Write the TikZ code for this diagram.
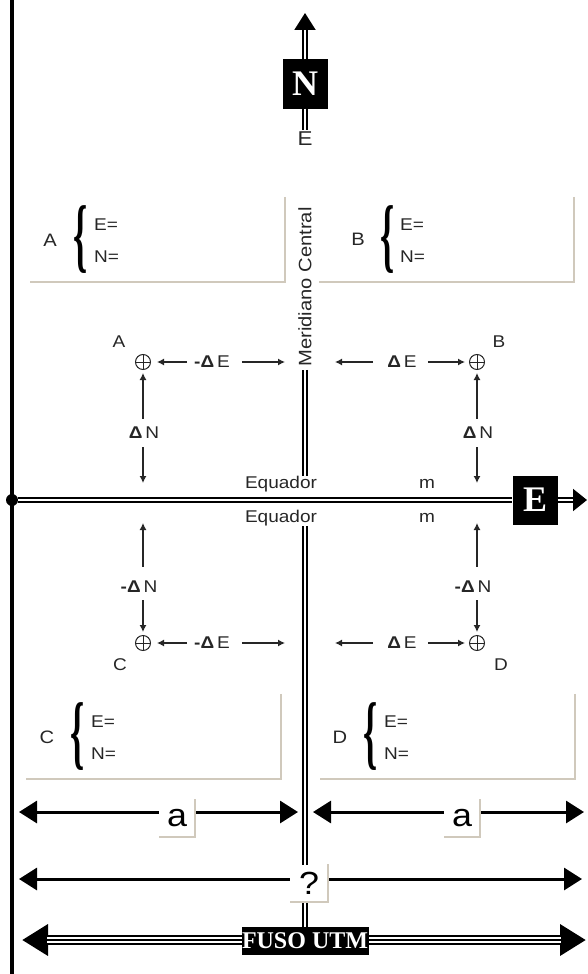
\documentclass[tikz,border=0pt]{standalone}
\usepackage{fontspec}
\setmainfont{Liberation Sans}[FakeStretch=1.12]
\newfontfamily\romfont{Liberation Serif}
\usetikzlibrary{arrows.meta}

\definecolor{ink}{gray}{0.15}
\definecolor{sand}{RGB}{208,201,188}

\newcommand{\dlt}{\textbf{Δ}\,}
\newcommand{\brc}{\scalebox{0.9}[2.05]{\romfont\bfseries\fontsize{40}{40}\selectfont\{}}

\begin{document}
\begin{tikzpicture}[
  x=1pt, y=-1pt,
  dbl/.style={draw=black, line width=2pt, double=white, double distance=2pt},
  tag/.style={fill=black, text=white, font=\romfont\bfseries\fontsize{36}{36}\selectfont,
              minimum width=45pt, minimum height=49pt, inner sep=0pt},
  lbl/.style={text=ink, font=\fontsize{17}{17}\selectfont, inner sep=0pt},
  pt/.style={circle, draw=ink, line width=1pt, minimum size=15pt, inner sep=0pt,
             path picture={\draw[ink, line width=1pt]
               (path picture bounding box.north) -- (path picture bounding box.south)
               (path picture bounding box.west) -- (path picture bounding box.east);}},
  sarr/.style={-{Latex[length=7pt,width=7pt]}, draw=ink, line width=1.2pt},
  coordbox/.style={minimum width=255pt, minimum height=85pt, inner sep=0pt},
  corner/.style={draw=sand, line width=1.8pt},
  dimlbl/.style={fill=white, minimum width=36pt, minimum height=37pt, inner sep=0pt,
                 font=\fontsize{32}{32}\selectfont},
  dimarr/.style={line width=3pt, {Triangle[length=18pt,width=22pt]}-{Triangle[length=18pt,width=22pt]}},
  fusoarr/.style={line width=10pt, {Triangle[length=26pt,width=30pt]}-{Triangle[length=26pt,width=30pt]},
                  postaction={draw=white, line width=6pt, arrows=-, shorten <=25pt, shorten >=25pt},
                  postaction={draw=black, line width=2pt, arrows=-, shorten <=25pt, shorten >=25pt}},
]
\useasboundingbox (0,0) rectangle (587,974);

% borda esquerda e origem
\coordinate (ltop) at (12,0);
\coordinate (lbot) at (12,974);
\draw[line width=3.5pt] (ltop) -- (lbot);
\node[circle, fill=black, minimum size=12pt, inner sep=0pt] (orig) at (12,500) {};

% norte e meridiano central
\node[tag] (nbox) at (305,84) {N};
\coordinate (ntip) at (305,13);
\node[lbl, font=\fontsize{20}{20}\selectfont] (eN) at (305,139) {E};
\draw[dbl, -{Triangle[length=17pt,width=21pt]}] (nbox) -- (ntip);
\draw[dbl, shorten >=2pt] (nbox) -- (eN);
\node[lbl, rotate=90, inner sep=3pt, font=\fontsize{18}{18}\selectfont] (mer) at (305,287) {Meridiano Central};

% equador
\node[tag] (ebox) at (535,500) {E};
\coordinate (etip) at (587,500);
\draw[dbl] (orig) -- (ebox);
\draw[dbl, -{Triangle[length=14pt,width=22pt]}] (ebox) -- (etip);
\node[lbl] (eqN) at (281,484) {Equador};
\node[lbl] (mN) at (427,484) {m};
\node[lbl] (eqS) at (281,518) {Equador};
\node[lbl] (mS) at (427,518) {m};

% quadros de coordenadas
\node[coordbox] (boxA) at (157.5,239.5) {};
\node[coordbox] (boxB) at (446.5,239.5) {};
\node[coordbox] (boxC) at (153.5,736.5) {};
\node[coordbox] (boxD) at (447.5,736.5) {};
\foreach \b in {boxA,boxB,boxC,boxD}
  \draw[corner] (\b.north east) -- (\b.south east) -- (\b.south west);

\node[lbl, font=\fontsize{18}{18}\selectfont] (nameA) at (50,240) {A};
\node[text=black, inner sep=0pt] (brA) at (81,240) {\brc};
\node[lbl, anchor=west] (eA) at (94,225) {E=};
\node[lbl, anchor=west] (nA) at (94,257) {N=};

\node[lbl, font=\fontsize{18}{18}\selectfont] (nameB) at (358,239) {B};
\node[text=black, inner sep=0pt] (brB) at (388,240) {\brc};
\node[lbl, anchor=west] (eB) at (400,225) {E=};
\node[lbl, anchor=west] (nB) at (400,257) {N=};

\node[lbl, font=\fontsize{18}{18}\selectfont] (nameC) at (47,737) {C};
\node[text=black, inner sep=0pt] (brC) at (78,737) {\brc};
\node[lbl, anchor=west] (eC) at (91,722) {E=};
\node[lbl, anchor=west] (nC) at (91,754) {N=};

\node[lbl, font=\fontsize{18}{18}\selectfont] (nameD) at (340,737) {D};
\node[text=black, inner sep=0pt] (brD) at (371,737) {\brc};
\node[lbl, anchor=west] (eD) at (384,722) {E=};
\node[lbl, anchor=west] (nD) at (384,754) {N=};

% pontos
\node[pt] (ptA) at (143,362) {};
\node[pt] (ptB) at (477,362) {};
\node[pt] (ptC) at (143,643) {};
\node[pt] (ptD) at (477,643) {};
\node[lbl] at (119,342) {A};
\node[lbl] at (499,342) {B};
\node[lbl] at (120,665) {C};
\node[lbl] at (501,665) {D};

% diferencas em E
\node[lbl] (dEa) at (212,362) {\textbf{-}\dlt E};
\node[lbl] (dEb) at (402,362) {\dlt E};
\node[lbl] (dEc) at (212,643) {\textbf{-}\dlt E};
\node[lbl] (dEd) at (402,643) {\dlt E};
\draw[sarr, shorten <=7pt, shorten >=6pt] (dEa) -- (ptA);
\draw[sarr, shorten <=12pt, shorten >=20pt] (dEa) -- (dEa -| mer);
\draw[sarr, shorten <=14pt, shorten >=30pt] (dEb) -- (dEb -| mer);
\draw[sarr, shorten <=11pt, shorten >=4pt] (dEb) -- (ptB);
\draw[sarr, shorten <=7pt, shorten >=6pt] (dEc) -- (ptC);
\draw[sarr, shorten <=12pt, shorten >=20pt] (dEc) -- (dEc -| mer);
\draw[sarr, shorten <=14pt, shorten >=30pt] (dEd) -- (dEd -| mer);
\draw[sarr, shorten <=11pt, shorten >=4pt] (dEd) -- (ptD);

% diferencas em N
\node[lbl] (dNa) at (144,433) {\dlt N};
\node[lbl] (dNb) at (478,433) {\dlt N};
\node[lbl] (dNc) at (139,587) {\textbf{-}\dlt N};
\node[lbl] (dNd) at (473,587) {\textbf{-}\dlt N};
\draw[sarr, shorten <=8pt, shorten >=3pt] (dNa.north -| ptA) -- (ptA);
\draw[sarr, shorten <=8pt, shorten >=17pt] (dNa.south -| ptA) -- (ptA |- orig);
\draw[sarr, shorten <=8pt, shorten >=3pt] (dNb.north -| ptB) -- (ptB);
\draw[sarr, shorten <=8pt, shorten >=17pt] (dNb.south -| ptB) -- (ptB |- orig);
\draw[sarr, shorten <=14pt, shorten >=23pt] (dNc.north -| ptC) -- (ptC |- orig);
\draw[sarr, shorten <=7pt, shorten >=3pt] (dNc.south -| ptC) -- (ptC);
\draw[sarr, shorten <=14pt, shorten >=23pt] (dNd.north -| ptD) -- (ptD |- orig);
\draw[sarr, shorten <=7pt, shorten >=3pt] (dNd.south -| ptD) -- (ptD);

% cotas
\coordinate (a1L) at (19,812);
\coordinate (a1R) at (298,812);
\coordinate (a2L) at (313,812);
\coordinate (a2R) at (584,812);
\coordinate (qL) at (19,879);
\coordinate (qR) at (582,879);
\coordinate (fL) at (22,940);
\coordinate (fR) at (586,940);
\draw[dimarr] (a1L) -- (a1R);
\draw[dimarr] (a2L) -- (a2R);
\draw[dimarr] (qL) -- (qR);
\draw[fusoarr] (fL) -- (fR);

% fuso e meridiano
\node[fill=black, text=white, font=\romfont\bfseries\fontsize{24}{24}\selectfont,
      minimum width=127pt, minimum height=28pt, inner sep=0pt] (fuso) at (305,941) {FUSO UTM};
\draw[dbl] (mer.west) -- (mer.west |- eqN.north);
\draw[dbl] (mer.west |- eqS.south) -- (fuso.north);

\node[dimlbl] (a1) at (177,818) {a};
\node[dimlbl] (a2) at (462,818) {a};
\node[dimlbl, minimum width=38pt] (q) at (309,883) {?};
\foreach \n in {a1,a2,q}
  \draw[corner] (\n.north east) -- (\n.south east) -- (\n.south west);
\end{tikzpicture}
\end{document}
